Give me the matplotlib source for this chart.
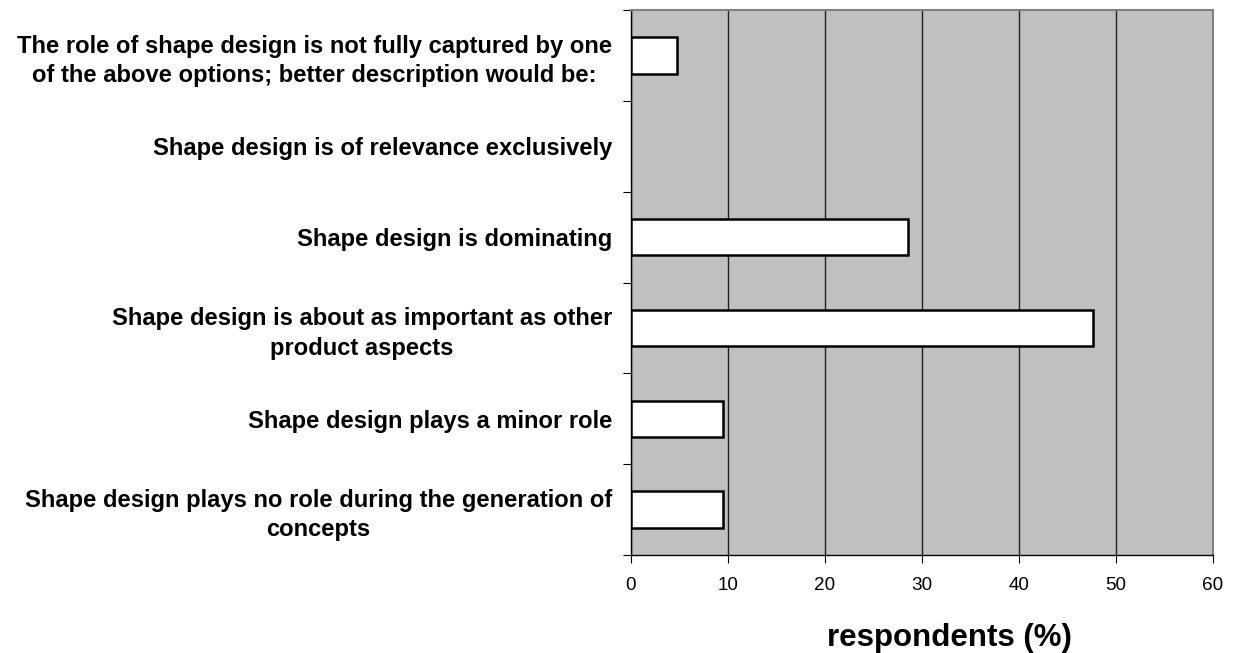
import matplotlib
matplotlib.use("Agg")
import matplotlib.pyplot as plt
import numpy as np

categories = [
    "Shape design plays no role during the generation of\nconcepts",
    "Shape design plays a minor role",
    "Shape design is about as important as other\nproduct aspects",
    "Shape design is dominating",
    "Shape design is of relevance exclusively",
    "The role of shape design is not fully captured by one\nof the above options; better description would be:",
]
values = [9.52, 9.52, 47.62, 28.57, 0.0, 4.76]
xticks = [0, 10, 20, 30, 40, 50, 60]

plt.rcParams['font.family'] = ['Liberation Sans', 'DejaVu Sans']

fig = plt.figure(figsize=(12.36, 6.53), dpi=100)
ax = fig.add_axes([0.5105, 0.150, 0.4709, 0.8347])
ax.set_facecolor('#C0C0C0')

y = np.arange(len(categories))
lws = [1.8 if v > 0 else 0 for v in values]
ax.barh(y, values, height=0.4, color='white', edgecolor='black', linewidth=lws, zorder=3)

ax.set_xlim(0, 60)
ax.set_ylim(-0.5, len(categories) - 0.5)
ax.set_xticks(xticks)
ax.set_xticklabels([str(t) for t in xticks], fontsize=13.6)
ax.xaxis.grid(True, color='#202020', linewidth=1.0, zorder=1)
ax.set_axisbelow(True)

ax.set_yticks(np.arange(-0.5, len(categories)), minor=False)
ax.set_yticklabels([])
ax.set_yticks(y, minor=True)
ax.set_yticklabels(categories, minor=True, fontsize=17.1, fontweight='bold',
                   multialignment='center', linespacing=1.35)
ax.tick_params(axis='y', which='major', length=6, direction='out', color='black')
ax.tick_params(axis='y', which='minor', length=0, pad=13.7)
ax.tick_params(axis='x', length=6, direction='out', pad=10)

for s in ['top', 'right']:
    ax.spines[s].set_color('#808080')
    ax.spines[s].set_linewidth(1.5)
for s in ['left', 'bottom']:
    ax.spines[s].set_color('black')
    ax.spines[s].set_linewidth(1.0)

ax.set_xlabel("respondents (%)", fontsize=22.5, fontweight='bold')
ax.xaxis.set_label_coords(0.548, -0.1245)

fig.savefig("out.png", dpi=100)
